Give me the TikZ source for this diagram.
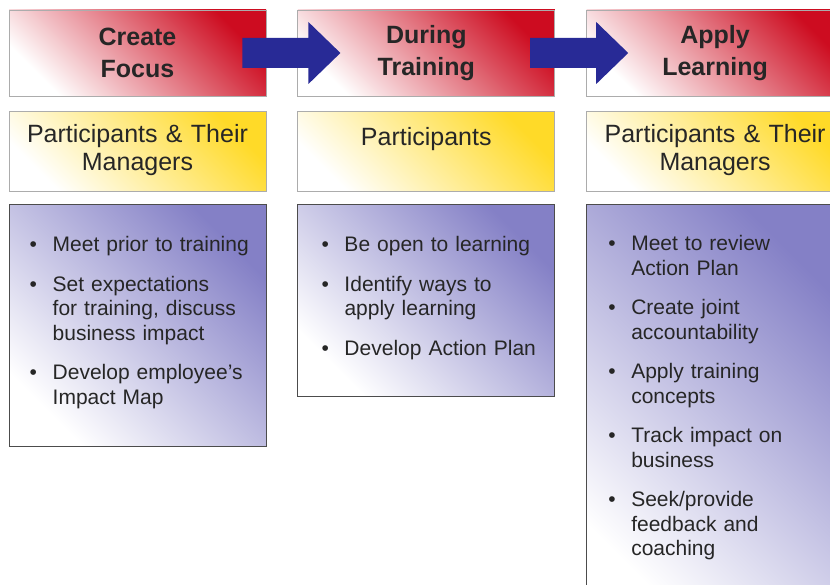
\documentclass[tikz,border=0pt]{standalone}
\usepackage{fontspec}
\setmainfont{Liberation Sans}
\usetikzlibrary{positioning,calc}

\definecolor{hdred}{RGB}{205,12,32}
\definecolor{ptyellow}{RGB}{255,218,40}
\definecolor{bxpurple}{RGB}{132,128,198}
\definecolor{arblue}{RGB}{40,42,150}
\definecolor{ink}{RGB}{38,38,38}

\newcommand\itm[1]{\par\setlength\parskip{15pt}\noindent\hangindent=23pt\hangafter=1%
  \makebox[23pt][l]{\textbullet}#1\par}

\begin{document}
\begin{tikzpicture}[x=1pt, y=-1pt,
    hdbox/.style = {draw=gray!65, line width=.8pt, minimum width=257pt, minimum height=86pt,
                    inner sep=0pt, align=center, text=ink,
                    font=\bfseries\fontsize{25}{32}\selectfont,
                    bottom color=white, middle color=hdred!48!white, top color=hdred, shading angle=-45},
    ptbox/.style = {draw=gray!65, line width=.8pt, minimum width=257pt, minimum height=80pt,
                    bottom color=white, middle color=ptyellow!30!white, top color=ptyellow, shading angle=-45},
    bxbox/.style = {draw=black!70, line width=1pt, minimum width=257pt, anchor=north,
                    bottom color=white, middle color=bxpurple!32!white, top color=bxpurple, shading angle=-45},
    pttext/.style = {anchor=base, text width=250pt, align=center, inner sep=0pt, text=ink,
                     font=\fontsize{25}{28}\selectfont},
    bltext/.style = {anchor=base west, text width=232pt, align=left, inner sep=0pt, text=ink,
                     font=\fontsize{21}{24.5}\selectfont},
    flow/.style = {fill=arblue}]
\useasboundingbox (0,0) rectangle (830,585);
\clip (0,0) rectangle (830,585);

% stage headers
\node[hdbox] (h1) at (137.5,53) {Create\\Focus};
\node[hdbox, right=31pt of h1] (h2) {During\\Training};
\node[hdbox, right=31pt of h2] (h3) {Apply\\Learning};

% who takes part
\node[ptbox, below=15pt of h1] (p1) {};
\node[ptbox, below=15pt of h2] (p2) {};
\node[ptbox, below=15pt of h3] (p3) {};
\node[pttext] (pl1) at ([yshift=-31pt]p1.north) {Participants \& Their\\Managers};
\node[pttext] (pl2) at ([yshift=-34pt]p2.north) {Participants};
\node[pttext] (pl3) at ([yshift=-31pt]p3.north) {Participants \& Their\\Managers};

% what they do
\node[bxbox, minimum height=242pt] (b1) at ([yshift=-12pt]p1.south) {};
\node[bxbox, minimum height=192pt] (b2) at ([yshift=-12pt]p2.south) {};
\node[bxbox, minimum height=420pt] (b3) at ([yshift=-12pt]p3.south) {};

\node[bltext] (bl1) at ([xshift=21pt,yshift=-8pt]b1.north west) {%
  \itm{Meet prior to training}
  \itm{Set expectations\newline for training, discuss\newline business impact}
  \itm{Develop employee's\newline Impact Map}};
\node[bltext] (bl2) at ([xshift=24pt,yshift=-8pt]b2.north west) {%
  \itm{Be open to learning}
  \itm{Identify ways to\newline apply learning}
  \itm{Develop Action Plan}};
\node[bltext] (bl3) at ([xshift=22pt,yshift=-7pt]b3.north west) {%
  \itm{Meet to review\newline Action Plan}
  \itm{Create joint\newline accountability}
  \itm{Apply training\newline concepts}
  \itm{Track impact on\newline business}
  \itm{Seek/provide\newline feedback and\newline coaching}};

% block arrows between the stages
\fill[flow] ($(h1.east)+(-24,-15)$) -- ++(66,0) -- ++(0,-16) -- ++(32,31)
  -- ++(-32,31) -- ++(0,-16) -- ++(-66,0) -- cycle;
\fill[flow] ($(h2.east)+(-25,-15)$) -- ++(66,0) -- ++(0,-16) -- ++(32,31)
  -- ++(-32,31) -- ++(0,-16) -- ++(-66,0) -- cycle;
\end{tikzpicture}
\end{document}
